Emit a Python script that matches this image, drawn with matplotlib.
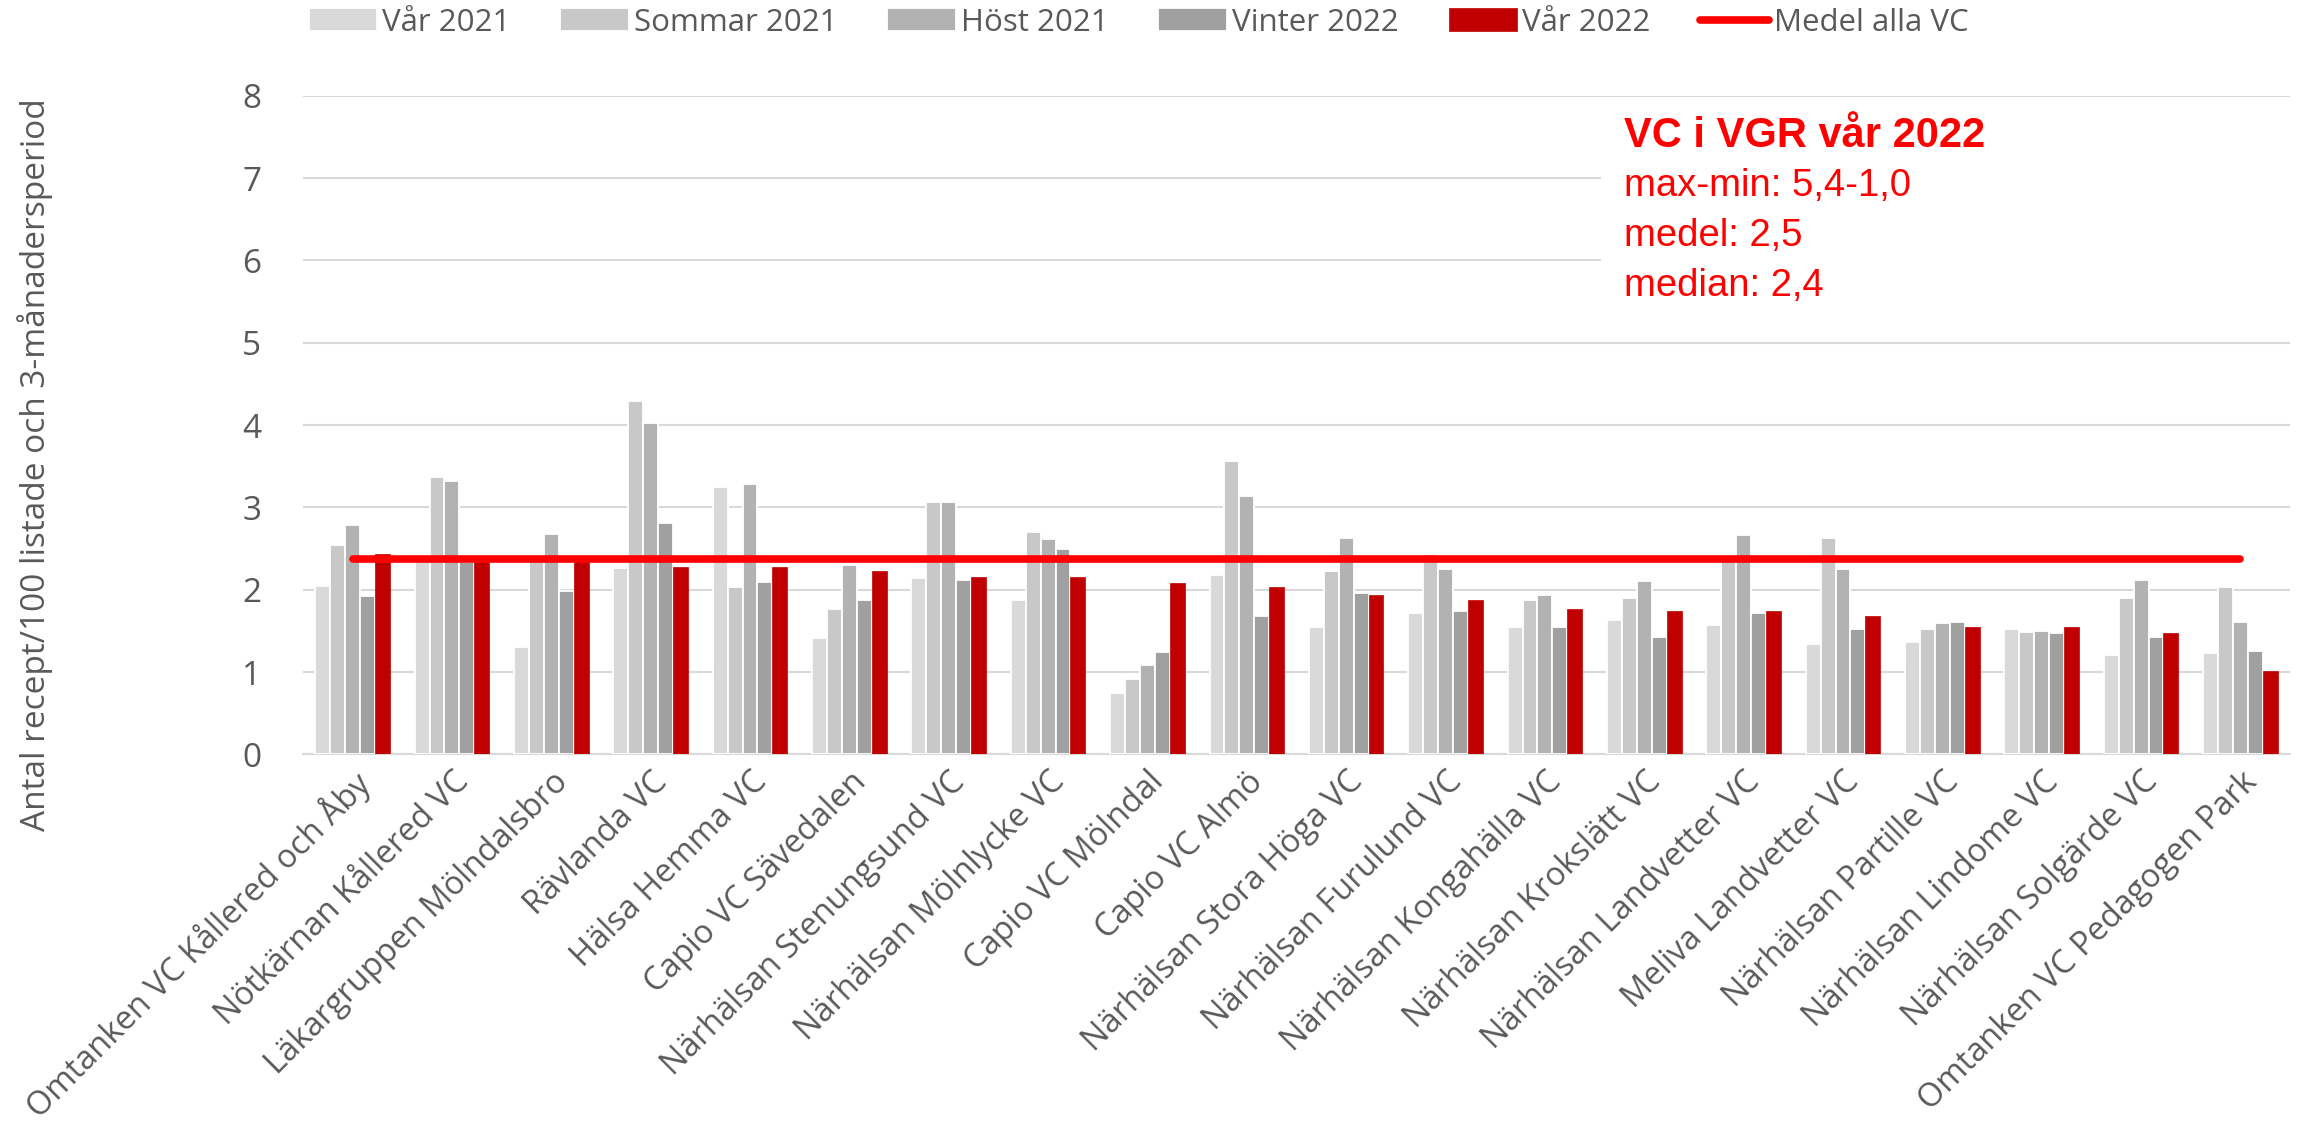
import numpy as np
import matplotlib
matplotlib.use("Agg")
import matplotlib.pyplot as plt
from matplotlib.patches import Rectangle

plt.rcParams["font.family"] = ["Open Sans", "DejaVu Sans"]

names = ["Omtanken VC Kållered och Åby", "Nötkärnan Kållered VC",
         "Läkargruppen Mölndalsbro", "Rävlanda VC", "Hälsa Hemma VC",
         "Capio VC Sävedalen", "Närhälsan Stenungsund VC",
         "Närhälsan Mölnlycke VC", "Capio VC Mölndal", "Capio VC Almö",
         "Närhälsan Stora Höga VC", "Närhälsan Furulund VC",
         "Närhälsan Kongahälla VC", "Närhälsan Krokslätt VC",
         "Närhälsan Landvetter VC", "Meliva Landvetter VC",
         "Närhälsan Partille VC", "Närhälsan Lindome VC",
         "Närhälsan Solgärde VC", "Omtanken VC Pedagogen Park"]

var2021 = [2.04, 2.37, 1.30, 2.26, 3.25, 1.41, 2.14, 1.88, 0.75, 2.18,
           1.55, 1.72, 1.55, 1.63, 1.57, 1.34, 1.37, 1.52, 1.21, 1.23]
sommar2021 = [2.54, 3.37, 2.35, 4.29, 2.03, 1.77, 3.06, 2.70, 0.92, 3.56,
              2.23, 2.43, 1.87, 1.90, 2.38, 2.63, 1.52, 1.48, 1.90, 2.03]
host2021 = [2.79, 3.32, 2.68, 4.03, 3.28, 2.30, 3.06, 2.61, 1.08, 3.14,
            2.63, 2.25, 1.94, 2.10, 2.67, 2.25, 1.59, 1.50, 2.12, 1.61]
vinter2022 = [1.92, 2.34, 1.98, 2.81, 2.09, 1.87, 2.12, 2.50, 1.24, 1.68,
              1.96, 1.74, 1.55, 1.43, 1.72, 1.52, 1.61, 1.47, 1.43, 1.26]
var2022 = [2.43, 2.38, 2.36, 2.28, 2.28, 2.23, 2.15, 2.15, 2.08, 2.03,
           1.94, 1.87, 1.76, 1.74, 1.74, 1.68, 1.55, 1.55, 1.47, 1.01]
medel_alla_vc = 2.37

series = [("Vår 2021", var2021, "#d9d9d9"),
          ("Sommar 2021", sommar2021, "#c8c8c8"),
          ("Höst 2021", host2021, "#b2b2b2"),
          ("Vinter 2022", vinter2022, "#a0a0a0"),
          ("Vår 2022", var2022, "#c00000")]

txt_col = "#595959"

fig = plt.figure(figsize=(23, 11.36), dpi=100)
ax = fig.add_axes([0.1317, 0.336, 0.864, 0.5796])

x = np.arange(len(names))
w = 0.15
handles = []
for i, (lab, vals, col) in enumerate(series):
    off = (i - 2) * w
    if col == "#c00000":
        b = ax.bar(x + off, vals, w, color=col, edgecolor=col, linewidth=0.5,
                   label=lab, zorder=3)
    else:
        b = ax.bar(x + off, vals, w, color=col, edgecolor="white",
                   linewidth=1.3, label=lab, zorder=3)
    handles.append(b)

ln, = ax.plot(x, [medel_alla_vc] * len(x), color="#ff0000", linewidth=5.5,
              solid_capstyle="round", label="Medel alla VC", zorder=4)
handles.append(ln)

ax.set_xlim(-0.5, len(names) - 0.5)
ax.set_ylim(0, 8)
ax.set_yticks(range(0, 9))
ax.yaxis.grid(True, color="#d9d9d9", linewidth=1.5, zorder=0)
ax.set_axisbelow(True)
for s in ["top", "right", "left"]:
    ax.spines[s].set_visible(False)
ax.spines["bottom"].set_color("#d9d9d9")
ax.spines["bottom"].set_linewidth(1.5)
ax.tick_params(axis="both", length=0, labelsize=24, labelcolor=txt_col)
ax.tick_params(axis="y", pad=30)
ax.set_xticks(x)
ax.set_xticklabels(names, rotation=45, ha="right", rotation_mode="anchor",
                   fontsize=23.5)
ax.tick_params(axis="x", pad=8)

# white box behind the annotation
ax.add_patch(Rectangle((0.653, 0.66), 0.35, 0.325, transform=ax.transAxes,
                       facecolor="white", edgecolor="none", zorder=1))
ax.text(0.665, 0.922, "VC i VGR vår 2022", transform=ax.transAxes,
        color="#ff0000", fontsize=30, fontweight="bold",
        family="Liberation Sans", va="baseline", zorder=5)
for yy, t in [(0.848, "max-min: 5,4-1,0"), (0.772, "medel: 2,5"),
              (0.696, "median: 2,4")]:
    ax.text(0.665, yy, t, transform=ax.transAxes, color="#ff0000",
            fontsize=27.5, family="Liberation Sans", va="baseline", zorder=5)

fig.text(35 / 2300, 1 - 465 / 1136,
         "Antal recept/100 listade och 3-månadersperiod",
         rotation=90, ha="center", va="center", fontsize=24, color=txt_col)

leg = fig.legend(handles=handles, loc="center", bbox_to_anchor=(0.495, 0.98),
                 ncol=6, frameon=False, fontsize=22.5, handlelength=2.2,
                 handleheight=0.75, handletextpad=0.15, columnspacing=1.6)
for t in leg.get_texts():
    t.set_color(txt_col)

fig.savefig("out.png", dpi=100)
